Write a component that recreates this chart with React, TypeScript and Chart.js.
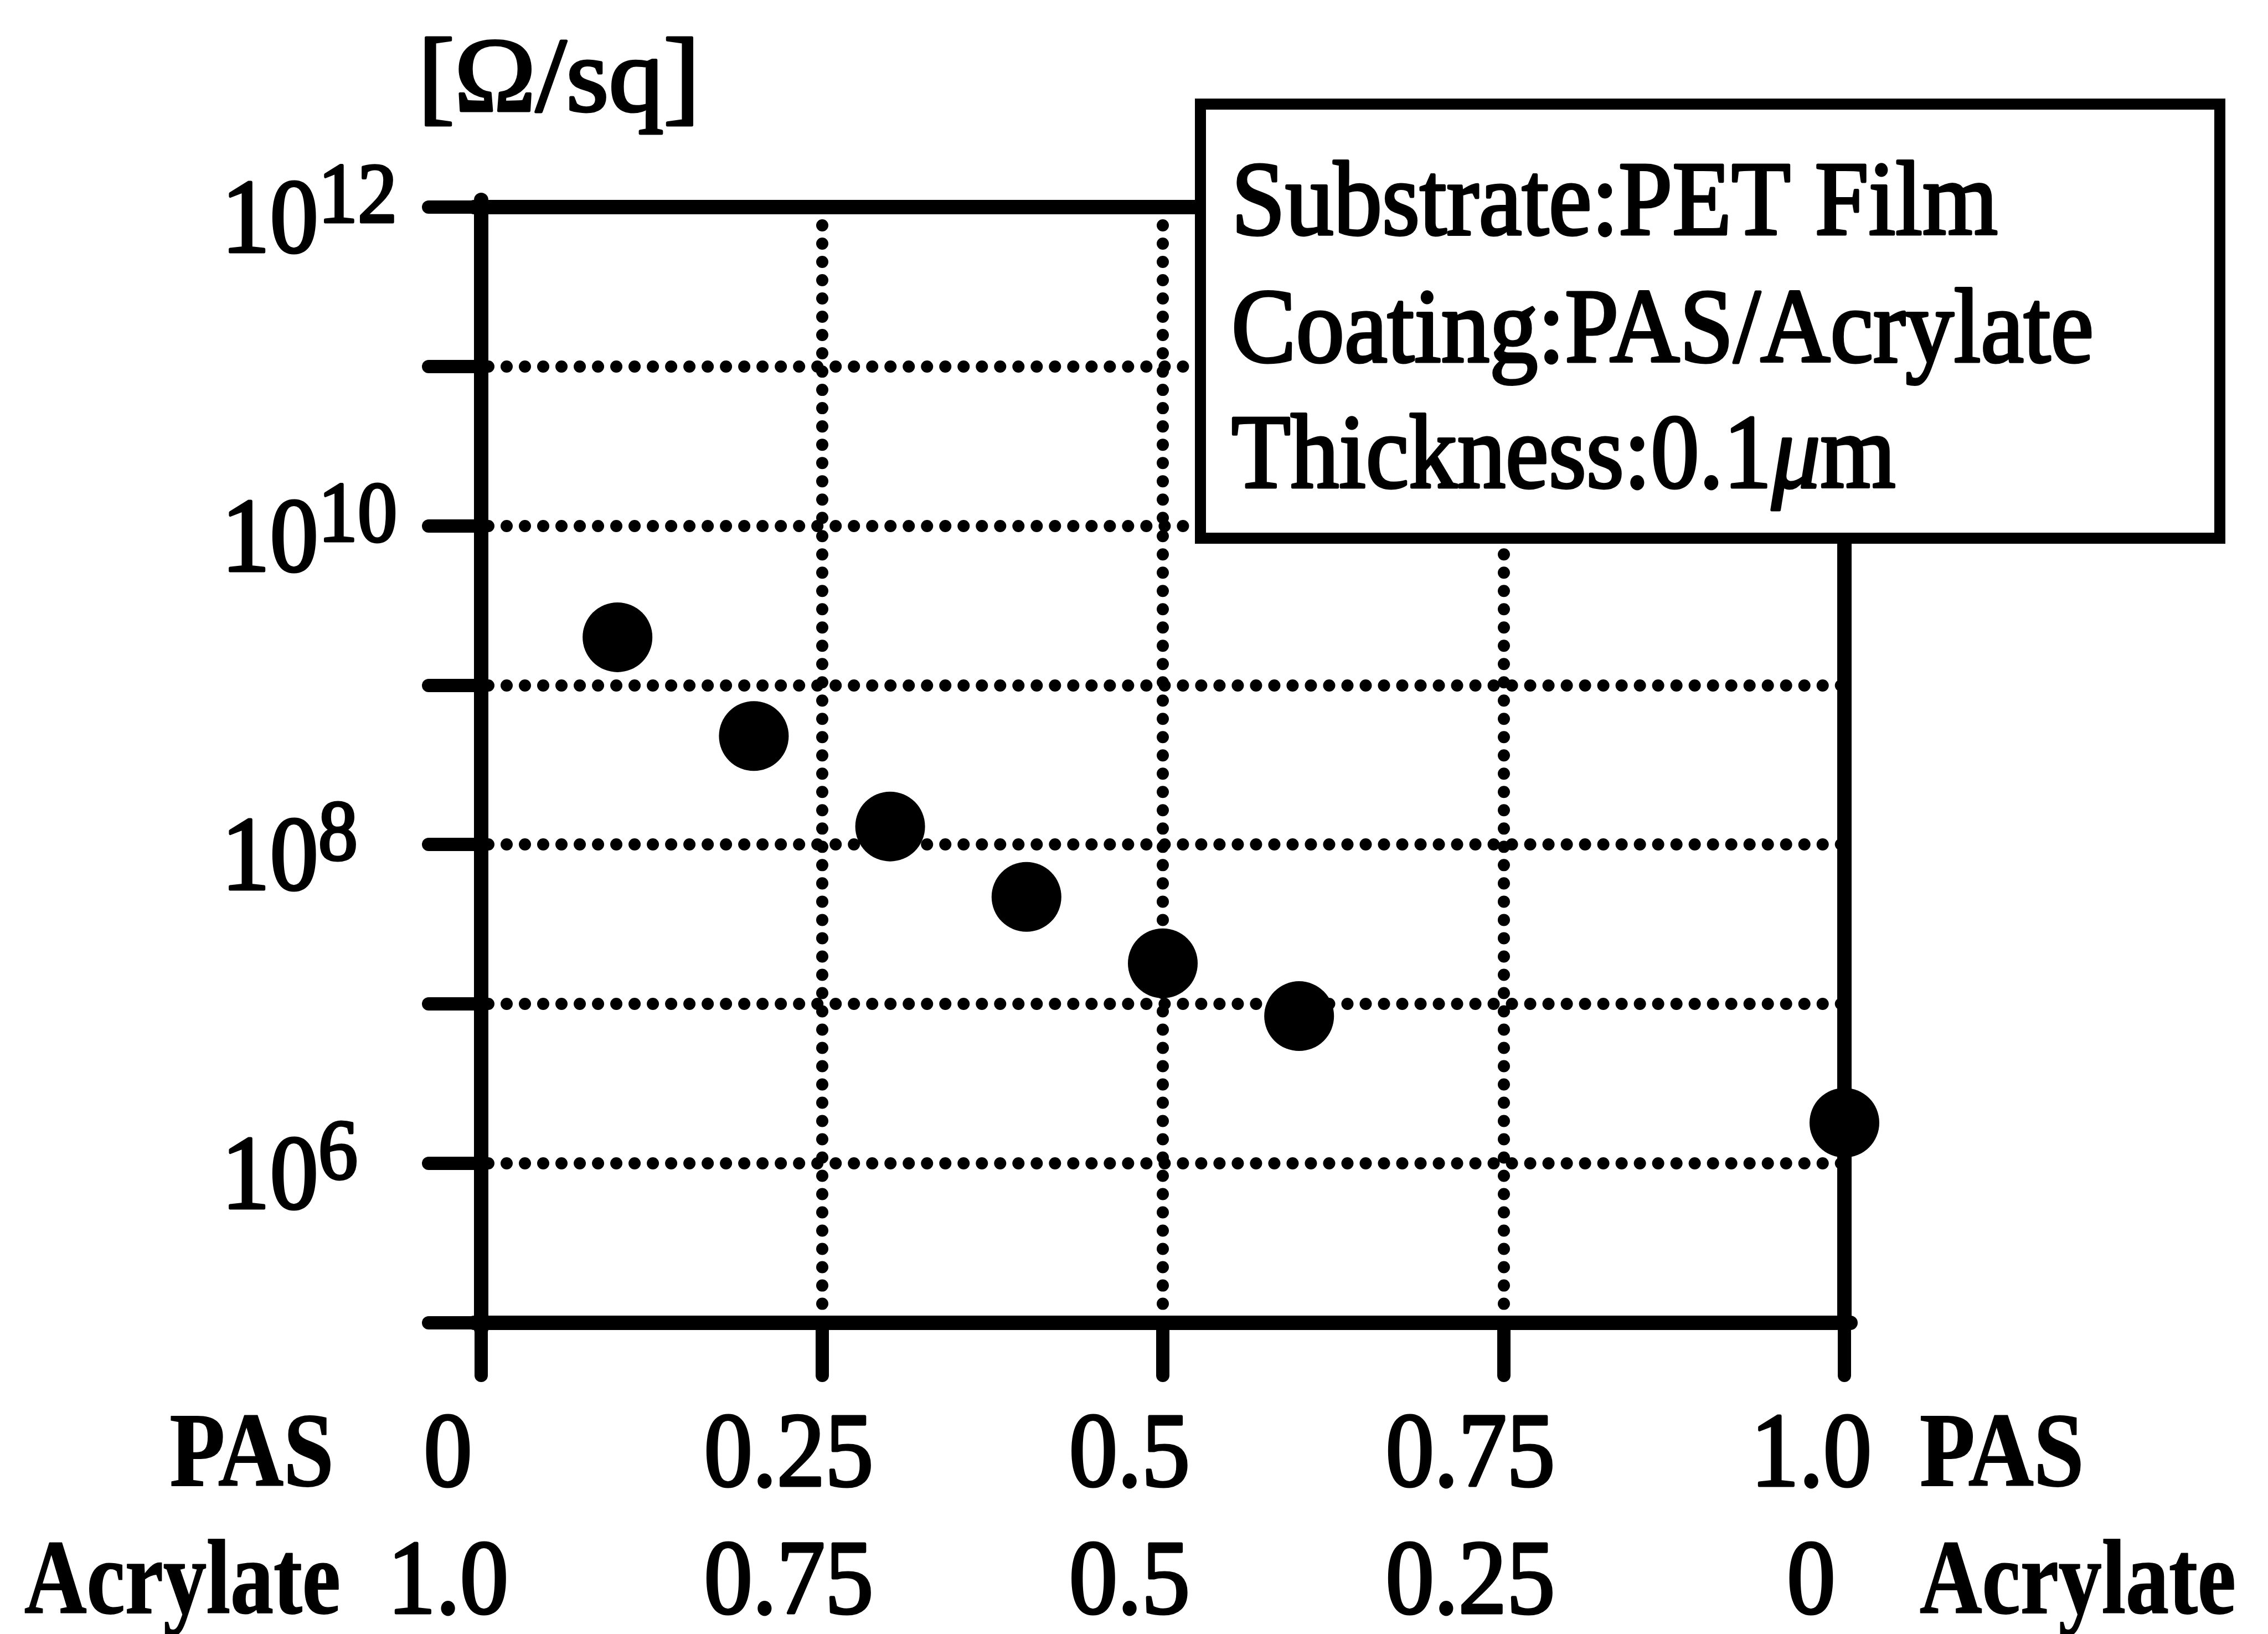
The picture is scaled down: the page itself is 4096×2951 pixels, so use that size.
import React, { useEffect, useRef } from 'react';
import { Chart, registerables } from 'chart.js';

Chart.register(...registerables);

// Surface resistivity of PAS/acrylate coatings versus PAS fraction
const pasFraction = [0.1, 0.2, 0.3, 0.4, 0.5, 0.6, 1.0];
const sheetResistance = [2.0e9, 4.8e8, 1.3e8, 4.7e7, 1.8e7, 8.4e6, 1.8e6];

// Axis ticks and their captions
const xTickValues = [0, 0.25, 0.5, 0.75, 1.0];
const pasTickLabels = ['0', '0.25', '0.5', '0.75', '1.0'];
const acrylateTickLabels = ['1.0', '0.75', '0.5', '0.25', '0'];
const yTickValues = [1e5, 1e6, 1e7, 1e8, 1e9, 1e10, 1e11, 1e12];
const yLabelValues = [1e12, 1e10, 1e8, 1e6];

const unitLabel = '[Ω/sq]';
const rowNames = ['PAS', 'Acrylate'];
const noteLines = ['Substrate:PET Film', 'Coating:PAS/Acrylate'];
const thicknessParts = ['Thickness:0.1', 'μ', 'm'];

// Canvas geometry
const W = 4096;
const H = 2951;
const AREA = { left: 869, top: 374, right: 3331, bottom: 2389 };
const FONT_FAMILY = '"Liberation Serif", "Times New Roman", serif';
const FS = 190;
const SUP_FS = 155;
const HS = 0.92;
const AXIS_W = 26;
const TICK_LEN = 95;
const TEXT_STROKE = 5;

type Align = 'left' | 'right' | 'center';

function drawText(
  ctx: CanvasRenderingContext2D,
  text: string,
  x: number,
  y: number,
  font: string,
  hs: number,
  align: Align,
  stroke: number = TEXT_STROKE
): number {
  ctx.save();
  ctx.font = font;
  const w = ctx.measureText(text).width * hs;
  let x0 = x;
  if (align === 'right') x0 = x - w;
  else if (align === 'center') x0 = x - w / 2;
  ctx.translate(x0, y);
  ctx.scale(hs, 1);
  ctx.textAlign = 'left';
  ctx.textBaseline = 'alphabetic';
  ctx.fillStyle = '#000';
  ctx.fillText(text, 0, 0);
  if (stroke > 0) {
    ctx.lineWidth = stroke;
    ctx.lineJoin = 'round';
    ctx.strokeStyle = '#000';
    ctx.strokeText(text, 0, 0);
  }
  ctx.restore();
  return w;
}

const regular = (size: number) => `${size}px ${FONT_FAMILY}`;
const bold = (size: number) => `bold ${size}px ${FONT_FAMILY}`;
const italic = (size: number) => `italic ${size}px ${FONT_FAMILY}`;

const annotations = {
  id: 'annotations',
  beforeDraw(chart: any) {
    chart.ctx.lineCap = 'round';
    chart.ctx.lineJoin = 'round';
  },
  afterDraw(chart: any) {
    const ctx: CanvasRenderingContext2D = chart.ctx;
    const xs = chart.scales.x;
    const ys = chart.scales.y;
    const area = chart.chartArea;

    // unit caption above the value axis
    drawText(ctx, unitLabel, 755, 200, regular(FS), 1.04, 'left');

    // decade labels 10^n
    const baseX = area.left - 469;
    for (const v of yLabelValues) {
      const py = ys.getPixelForValue(v);
      const w = drawText(ctx, '10', baseX, py + 81, regular(FS), HS, 'left');
      const exp = String(Math.round(Math.log10(v)));
      drawText(ctx, exp, baseX + w, py + 27, regular(SUP_FS), HS, 'left');
    }

    // two rows of composition labels under the x axis
    const row1 = area.bottom + 294;
    const row2 = area.bottom + 524;
    xTickValues.forEach((v, i) => {
      const px = xs.getPixelForValue(v) - 60;
      drawText(ctx, pasTickLabels[i], px, row1, regular(FS), HS, 'center');
      drawText(ctx, acrylateTickLabels[i], px, row2, regular(FS), HS, 'center');
    });
    drawText(ctx, rowNames[0], area.left - 266, row1, bold(FS), 0.86, 'right', 2);
    drawText(ctx, rowNames[1], area.left - 254, row2, bold(FS), 0.82, 'right', 2);
    drawText(ctx, rowNames[0], area.right + 136, row1, bold(FS), 0.86, 'left', 2);
    drawText(ctx, rowNames[1], area.right + 136, row2, bold(FS), 0.82, 'left', 2);

    // conditions box
    const bx = 2168, by = 188, bw = 1841, bh = 784;
    ctx.save();
    ctx.fillStyle = '#fff';
    ctx.fillRect(bx, by, bw, bh);
    ctx.lineWidth = 20;
    ctx.strokeStyle = '#000';
    ctx.lineJoin = 'miter';
    ctx.strokeRect(bx, by, bw, bh);
    ctx.restore();

    const tx = 2224;
    drawText(ctx, noteLines[0], tx, 423, regular(FS), HS, 'left');
    drawText(ctx, noteLines[1], tx, 653, regular(FS), HS, 'left');
    let cx = tx;
    cx += drawText(ctx, thicknessParts[0], cx, 880, regular(FS), HS, 'left');
    cx += drawText(ctx, thicknessParts[1], cx, 880, italic(FS), HS, 'left');
    drawText(ctx, thicknessParts[2], cx, 880, regular(FS), HS, 'left');

    ctx.lineCap = 'butt';
    ctx.lineJoin = 'miter';
  },
};

export default function App() {
  const ref = useRef<HTMLCanvasElement>(null);

  useEffect(() => {
    const canvas = ref.current;
    if (!canvas) return;

    const dotted = [0.01, 33];
    const isEdgeX = (c: any) => c.tick && (c.tick.value === 0 || c.tick.value === 1);
    const isEdgeY = (c: any) => c.tick && (c.tick.value <= 1e5 || c.tick.value >= 1e12);

    const chart = new Chart(canvas, {
      type: 'scatter',
      data: {
        datasets: [
          {
            data: pasFraction.map((x, i) => ({ x, y: sheetResistance[i] })),
            backgroundColor: '#000',
            borderColor: '#000',
            borderWidth: 0,
            pointRadius: 63,
            pointHoverRadius: 63,
            showLine: false,
            clip: false as any,
          },
        ],
      },
      options: {
        animation: false,
        responsive: false,
        maintainAspectRatio: false,
        devicePixelRatio: 1,
        events: [],
        layout: {
          padding: {
            left: AREA.left,
            top: AREA.top,
            right: W - AREA.right,
            bottom: H - AREA.bottom,
          },
        },
        plugins: {
          legend: { display: false },
          tooltip: { enabled: false },
        },
        scales: {
          x: {
            type: 'linear',
            position: 'bottom',
            min: 0,
            max: 1,
            afterBuildTicks: (s: any) => {
              s.ticks = xTickValues.map((v) => ({ value: v }));
            },
            afterFit: (s: any) => {
              s.height = 0;
            },
            ticks: { display: false },
            grid: {
              display: true,
              drawOnChartArea: true,
              drawTicks: true,
              color: (c: any) => (isEdgeX(c) ? 'rgba(0,0,0,0)' : '#000'),
              lineWidth: 22,
              tickColor: '#000',
              tickWidth: 24,
              tickLength: TICK_LEN,
              tickBorderDash: [],
            },
            border: { display: true, color: '#000', width: AXIS_W, dash: dotted },
          },
          y: {
            type: 'logarithmic',
            position: 'left',
            min: 1e5,
            max: 1e12,
            afterBuildTicks: (s: any) => {
              s.ticks = yTickValues.map((v) => ({ value: v }));
            },
            afterFit: (s: any) => {
              s.width = 0;
            },
            ticks: { display: false },
            grid: {
              display: true,
              drawOnChartArea: true,
              drawTicks: true,
              color: (c: any) => (isEdgeY(c) ? 'rgba(0,0,0,0)' : '#000'),
              lineWidth: 22,
              tickColor: '#000',
              tickWidth: 24,
              tickLength: TICK_LEN,
              tickBorderDash: [],
            },
            border: { display: true, color: '#000', width: AXIS_W, dash: dotted },
          },
          xTop: {
            type: 'linear',
            position: 'top',
            min: 0,
            max: 1,
            afterFit: (s: any) => {
              s.height = 0;
            },
            ticks: { display: false },
            grid: { display: false },
            border: { display: true, color: '#000', width: AXIS_W },
          },
          yRight: {
            type: 'linear',
            position: 'right',
            min: 0,
            max: 1,
            afterFit: (s: any) => {
              s.width = 0;
            },
            ticks: { display: false },
            grid: { display: false },
            border: { display: true, color: '#000', width: AXIS_W },
          },
        },
      } as any,
      plugins: [annotations],
    });

    return () => chart.destroy();
  }, []);

  return (
    <div style={{ position: 'fixed', left: 0, top: 0, width: W, height: H, background: '#fff' }}>
      <canvas ref={ref} width={W} height={H} style={{ width: W, height: H, display: 'block' }} />
    </div>
  );
}
